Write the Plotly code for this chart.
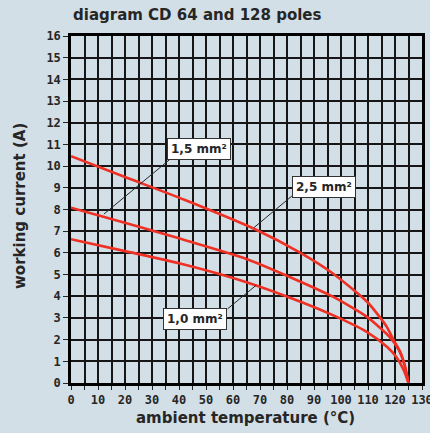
import plotly.graph_objects as go

# Data
temp_25 = [0, 20, 42, 68, 85, 97, 110, 116.9, 119.4, 121.9, 123.6, 125]
cur_25 = [10.46, 9.5, 8.45, 7.1, 6.0, 5.05, 3.7, 2.6, 2.0, 1.45, 0.8, 0.0]

temp_15 = [0, 11, 40, 65, 85, 97, 109.5, 118, 121.5, 123.5, 125]
cur_15 = [8.08, 7.7, 6.67, 5.72, 4.67, 3.98, 3.06, 2.13, 1.5, 0.85, 0.0]

temp_10 = [0, 20, 40.4, 65, 85, 97, 109.5, 117, 120.5, 123.2, 125]
cur_10 = [6.63, 6.08, 5.51, 4.65, 3.75, 3.13, 2.36, 1.67, 1.2, 0.6, 0.0]

labels = ["1,5 mm²", "2,5 mm²", "1,0 mm²"]
label_box_x = [47.5, 93.7, 45.9]
label_box_y = [10.8, 9.06, 2.96]
leader_start_x = [36.5, 81.8, 58.0]
leader_start_y = [10.3, 8.62, 3.42]
label_tip_x = [12.2, 67.8, 68.5]
label_tip_y = [7.79, 7.17, 4.5]

x_ticks = list(range(0, 131, 10))
y_ticks = list(range(0, 17))

BG = "#d3dfe6"
RED = "#ee3124"
INK = "#262626"

fig = go.Figure()
for xs, ys in [(temp_25, cur_25), (temp_15, cur_15), (temp_10, cur_10)]:
    fig.add_trace(go.Scatter(x=xs, y=ys, mode="lines", line=dict(color=RED, width=2.6, shape="spline", smoothing=0.6),
                             hoverinfo="skip", showlegend=False))

for sx, sy, tx, ty in zip(leader_start_x, leader_start_y, label_tip_x, label_tip_y):
    fig.add_shape(type="line", xref="x", yref="y", x0=sx, y0=sy, x1=tx, y1=ty,
                  line=dict(color=INK, width=1))

for t, bx, by in zip(labels, label_box_x, label_box_y):
    fig.add_annotation(x=bx, y=by, xref="x", yref="y",
                       text="<b>%s</b>" % t, showarrow=False,
                       bgcolor="white", bordercolor="#333", borderwidth=1, borderpad=3,
                       font=dict(family="DejaVu Sans", size=12, color=INK))

fig.add_annotation(text="<b>ambient temperature (°C)</b>", xref="paper", yref="paper",
                   x=(245 - 71) / 351, y=-(418 - 383) / 347, xanchor="center", yanchor="middle",
                   showarrow=False, font=dict(family="DejaVu Sans", size=15, color=INK))
fig.add_annotation(text="<b>working current (A)</b>", xref="paper", yref="paper",
                   x=(20 - 71) / 351, y=(383 - 206) / 347, xanchor="center", yanchor="middle",
                   textangle=-90, showarrow=False, font=dict(family="DejaVu Sans", size=15, color=INK))

fig.update_layout(
    width=430, height=433,
    paper_bgcolor=BG, plot_bgcolor=BG,
    margin=dict(l=71, r=8, t=36, b=50, autoexpand=False),
    title=dict(text="<b>diagram CD 64 and 128 poles</b>", x=73/430, xanchor="left", y=1-15/433, yanchor="middle",
               font=dict(family="DejaVu Sans", size=15, color=INK)),
    xaxis=dict(range=[0, 130], tickvals=x_ticks, ticktext=[str(v) for v in x_ticks], automargin=False,
               ticklabeloverflow="allow",
               showgrid=True, gridcolor="#161616", gridwidth=1.6,
               minor=dict(dtick=5, showgrid=True, gridcolor="#161616", gridwidth=1.6, ticks="outside", ticklen=4, tickcolor=INK),
               ticks="outside", ticklen=4, tickcolor=INK,
               showline=True, linecolor="#000", linewidth=2.5, mirror=True, zeroline=False,
               tickfont=dict(family="DejaVu Sans Mono", size=12, color=INK, weight="bold")),
    yaxis=dict(range=[0, 16], tickvals=y_ticks, ticktext=[str(v) for v in y_ticks], automargin=False,
               ticklabeloverflow="allow",
               showgrid=True, gridcolor="#161616", gridwidth=1.6,
               ticks="outside", ticklen=5, tickcolor=INK,
               showline=True, linecolor="#000", linewidth=2.5, mirror=True, zeroline=False,
               tickfont=dict(family="DejaVu Sans Mono", size=12, color=INK, weight="bold")),
)

fig.write_html("out.html", config={"displayModeBar": False},
               post_script="document.body.style.margin='0';document.body.style.background='%s';" % BG)
